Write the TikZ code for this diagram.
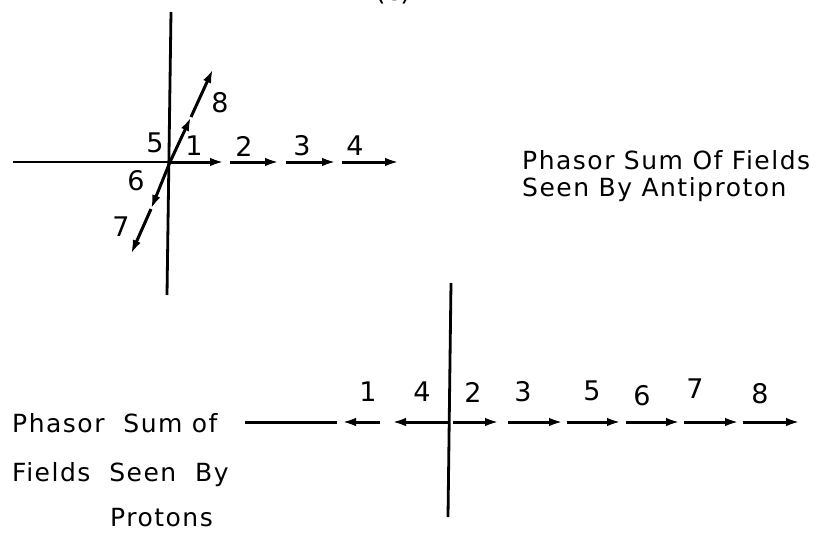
\documentclass[tikz,border=0pt]{standalone}
\usepackage{fontspec}
\setmainfont{DejaVu Sans}
\newfontfamily\lettering[LetterSpace=6]{DejaVu Sans}
\usetikzlibrary{arrows.meta}
\begin{document}
\begin{tikzpicture}[x=1pt,y=-1pt,
  axis/.style={line width=2.8pt},
  vec/.style={line width=3pt,-{Latex[length=14pt,width=8.5pt]}},
  plain/.style={line width=3pt},
  num/.style={font=\fontsize{27}{27}\selectfont,inner sep=0pt},
  captext/.style={font=\lettering\fontsize{25}{29}\selectfont,inner sep=0pt,anchor=west}]
\useasboundingbox (0,0) rectangle (815,549);
\clip (0,0) rectangle (815,549);
\node[num] (c) at (393,-8) {(c)};
% ---- top diagram
\coordinate (O) at (170,162);
\coordinate (vt) at (171,12);
\coordinate (vb) at (167,295);
\coordinate (hl) at (13,162);
\draw[axis] (vt) -- (vb);
\draw[axis] (hl) -- (O);
\coordinate (a1) at (224,162);
\coordinate (b2) at (230,162); \coordinate (a2) at (279,162);
\coordinate (b3) at (286,162); \coordinate (a3) at (336,162);
\coordinate (b4) at (342,162); \coordinate (a4) at (399,162);
\draw[vec] (O) -- (a1);
\draw[vec] (b2) -- (a2);
\draw[vec] (b3) -- (a3);
\draw[vec] (b4) -- (a4);
\coordinate (a5) at (191,117);
\coordinate (b8) at (191,117); \coordinate (a8) at (213,69);
\draw[vec] (O) -- (a5);
\draw[vec] (b8) -- (a8);
\coordinate (a6) at (151,209);
\coordinate (b7) at (151,209); \coordinate (a7) at (131,254);
\draw[vec] (O) -- (a6);
\draw[vec] (b7) -- (a7);
\node[num] (t1) at (194,146) {1};
\node[num] (t2) at (244,146) {2};
\node[num] (t3) at (302,146) {3};
\node[num] (t4) at (355,146) {4};
\node[num] (t5) at (155,143) {5};
\node[num] (t6) at (136,181) {6};
\node[num] (t7) at (121,227) {7};
\node[num] (t8) at (220,103) {8};
\node[captext] (ta) at (522,160) {Phasor Sum Of Fields};
\node[captext] (tb) at (522,190) {Seen By Antiproton};
% ---- bottom diagram
\coordinate (Q) at (449,422);
\coordinate (wt) at (451,283);
\coordinate (wb) at (448,517);
\draw[axis] (wt) -- (wb);
\coordinate (l0) at (245,422); \coordinate (l1) at (337,422);
\draw[plain] (l0) -- (l1);
\coordinate (s1) at (380,422); \coordinate (e1) at (342,422);
\draw[vec] (s1) -- (e1);
\coordinate (e4) at (392,422);
\draw[vec] (Q) -- (e4);
\coordinate (s2) at (453,422); \coordinate (e2) at (499,422);
\coordinate (s3) at (508,422); \coordinate (e3) at (563,422);
\coordinate (s5) at (567,422); \coordinate (e5) at (621,422);
\coordinate (s6) at (626,422); \coordinate (e6) at (680,422);
\coordinate (s7) at (684,422); \coordinate (e7) at (739,422);
\coordinate (s8) at (743,422); \coordinate (e8) at (800,422);
\draw[vec] (s2) -- (e2);
\draw[vec] (s3) -- (e3);
\draw[vec] (s5) -- (e5);
\draw[vec] (s6) -- (e6);
\draw[vec] (s7) -- (e7);
\draw[vec] (s8) -- (e8);
\node[num] (u1) at (368,392) {1};
\node[num] (u4) at (422,392) {4};
\node[num] (u2) at (473,392) {2};
\node[num] (u3) at (523,392) {3};
\node[num] (u5) at (592,391) {5};
\node[num] (u6) at (642,396) {6};
\node[num] (u7) at (695,389) {7};
\node[num] (u8) at (760,394) {8};
\node[captext] (pa) at (12,423) {Phasor\ \ Sum\ of};
\node[captext] (pb) at (12,475) {Fields\ \ Seen\ \ By};
\node[captext] (pc) at (110,518) {Protons};
\end{tikzpicture}
\end{document}
